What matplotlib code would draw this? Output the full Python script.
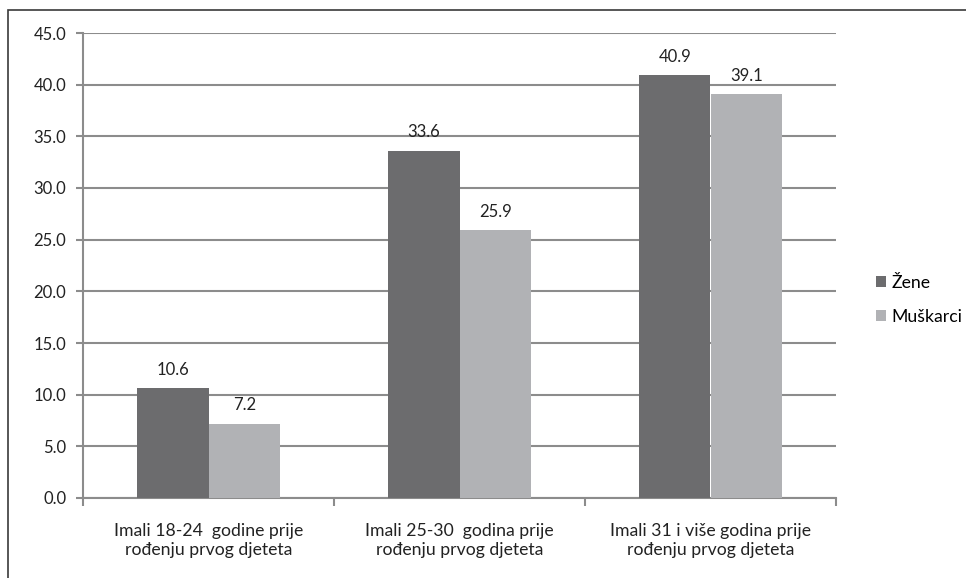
import matplotlib
matplotlib.use("Agg")
from matplotlib import pyplot as plt
from matplotlib.patches import Rectangle
import numpy as np

categories = ["Imali 18-24  godine prije\nrođenju prvog djeteta",
              "Imali 25-30  godina prije\nrođenju prvog djeteta",
              "Imali 31 i više godina prije\nrođenju prvog djeteta"]
zene = [10.6, 33.6, 40.9]
muskarci = [7.2, 25.9, 39.1]
series_names = ["Žene", "Muškarci"]

plt.rcParams["font.family"] = ["Lato", "DejaVu Sans"]

fig = plt.figure(figsize=(9.66, 5.78), dpi=100)
ax = fig.add_axes([83 / 966, 1 - 498 / 578, (836 - 83) / 966, (498 - 33) / 578])

# outer frame (only left/top visible in the reference)
fig.patches.append(Rectangle((8 / 966, -0.1), 1.2, 1 - 10 / 578 + 0.1,
                             transform=fig.transFigure, fill=False,
                             edgecolor="#3a3a3a", linewidth=1.2))

x = np.arange(len(categories))
w = 0.285
dark = "#6c6c6e"
light = "#b1b2b5"
b1 = ax.bar(x - w / 2, zene, w, color=dark, label=series_names[0], zorder=3)
b2 = ax.bar(x + w / 2, muskarci, w, color=light, label=series_names[1], zorder=3)

for bars, vals in ((b1, zene), (b2, muskarci)):
    for r, v in zip(bars, vals):
        ax.text(r.get_x() + r.get_width() / 2, v + 1.0, f"{v:.1f}",
                ha="center", va="bottom", fontsize=12, color="#222222")

ax.set_xlim(-0.5, len(categories) - 0.5)
ax.set_ylim(0, 45)
ax.set_yticks(np.arange(0, 45.1, 5))
ax.set_yticklabels([f"{t:.1f}" for t in np.arange(0, 45.1, 5)], fontsize=12, color="#222222")
ax.yaxis.grid(True, color="#8c8c8c", linewidth=1.5, zorder=0)
ax.set_axisbelow(True)

ax.set_xticks(x)
ax.set_xticklabels(categories, fontsize=12.7, color="#222222", linespacing=1.2)
ax.tick_params(axis="x", length=0, pad=18)
ax.set_xticks([-0.5, 0.5, 1.5, 2.5], minor=True)
ax.tick_params(axis="x", which="minor", length=6, width=1.5, color="#8c8c8c")
ax.tick_params(axis="y", length=5, width=1.5, color="#8c8c8c", pad=7)

for s in ["top", "right"]:
    ax.spines[s].set_visible(False)
for s in ["left", "bottom"]:
    ax.spines[s].set_color("#8c8c8c")
    ax.spines[s].set_linewidth(1.5)

leg = fig.legend(handles=[b1, b2], labels=series_names, loc="upper left",
                 bbox_to_anchor=(860 / 966, 1 - 259 / 578), frameon=False,
                 fontsize=12.7, handlelength=0.55, handleheight=0.55,
                 handletextpad=0.35, labelspacing=1.0)

fig.savefig("out.png", dpi=100)
